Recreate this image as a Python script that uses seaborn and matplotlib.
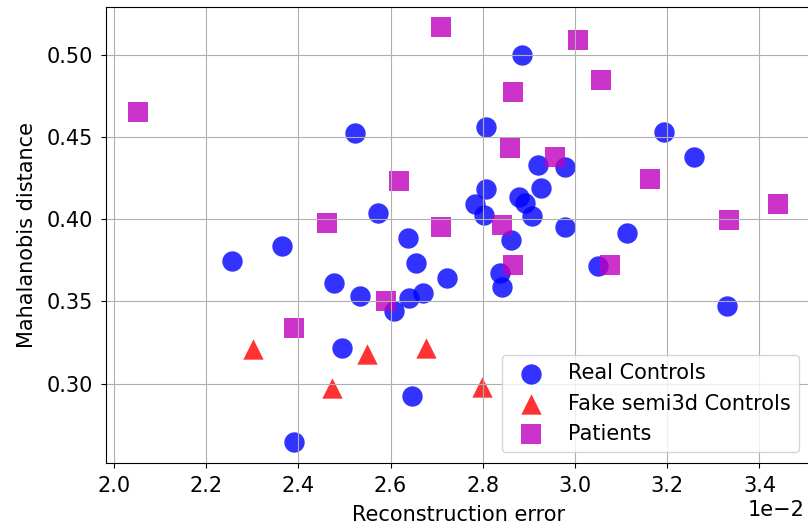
import numpy as np
import pandas as pd
import matplotlib
matplotlib.use("Agg")
import matplotlib.pyplot as plt
import seaborn as sns

# Reconstruction error (x) and Mahalanobis distance (y) per group
real_x = [0.02257, 0.02365, 0.02477, 0.02494, 0.02390, 0.02524, 0.02572, 0.02638,
          0.02533, 0.02655, 0.02723, 0.02607, 0.02640, 0.02671, 0.02647, 0.02837,
          0.02842, 0.02861, 0.02978, 0.02885, 0.02806, 0.02919, 0.02979, 0.02927,
          0.02808, 0.02879, 0.02891, 0.02783, 0.02802, 0.02907, 0.03193, 0.03257,
          0.03113, 0.03049, 0.03330]
real_y = [0.3744, 0.3837, 0.3614, 0.3219, 0.2646, 0.4522, 0.4035, 0.3888,
          0.3533, 0.3734, 0.3642, 0.3442, 0.3521, 0.3553, 0.2923, 0.3673,
          0.3588, 0.3871, 0.3954, 0.4998, 0.4562, 0.4329, 0.4319, 0.4187,
          0.4181, 0.4133, 0.4096, 0.4092, 0.4026, 0.4019, 0.4532, 0.4380,
          0.3918, 0.3713, 0.3470]

fake_x = [0.02301, 0.02473, 0.02548, 0.02676, 0.02799]
fake_y = [0.3213, 0.2974, 0.3178, 0.3215, 0.2982]

patient_x = [0.02053, 0.02709, 0.03006, 0.03057, 0.02865, 0.02860, 0.02956, 0.02619,
             0.03162, 0.02463, 0.02709, 0.02842, 0.03335, 0.03440, 0.02865, 0.03076,
             0.02591, 0.02390]
patient_y = [0.4653, 0.5166, 0.5091, 0.4846, 0.4771, 0.4435, 0.4376, 0.4234,
             0.4246, 0.3979, 0.3954, 0.3965, 0.3993, 0.4092, 0.3723, 0.3723,
             0.3506, 0.3339]

groups = ["Real Controls", "Fake semi3d Controls", "Patients"]
colors = {"Real Controls": "blue", "Fake semi3d Controls": "red", "Patients": "m"}
markers = {"Real Controls": "o", "Fake semi3d Controls": "^", "Patients": "s"}

frames = {
    "Real Controls": pd.DataFrame({"x": real_x, "y": real_y}),
    "Fake semi3d Controls": pd.DataFrame({"x": fake_x, "y": fake_y}),
    "Patients": pd.DataFrame({"x": patient_x, "y": patient_y}),
}

plt.rcParams["font.family"] = ["DejaVu Sans"]
plt.rcParams["font.size"] = 15

fig = plt.figure(figsize=(8.08, 5.29), dpi=100)
ax = fig.add_axes([106.3 / 808, (529 - 462.7) / 529, 703.6 / 808, 456 / 529])

for g in groups:
    sns.scatterplot(data=frames[g], x="x", y="y", ax=ax, color=colors[g],
                    marker=markers[g], s=215, alpha=0.8, linewidth=0, label=g)

ax.grid(True)
ax.ticklabel_format(axis="x", style="sci", scilimits=(0, 0))
ax.set_yticks([0.30, 0.35, 0.40, 0.45, 0.50])
ax.tick_params(pad=6.3)
ax.set_xlabel("Reconstruction error", labelpad=6.5)
ax.set_ylabel("Mahalanobis distance", labelpad=7)
ax.xaxis.get_offset_text().set_x(0.993)
ax.legend(loc="lower right")

fig.savefig("out.png", dpi=100)
